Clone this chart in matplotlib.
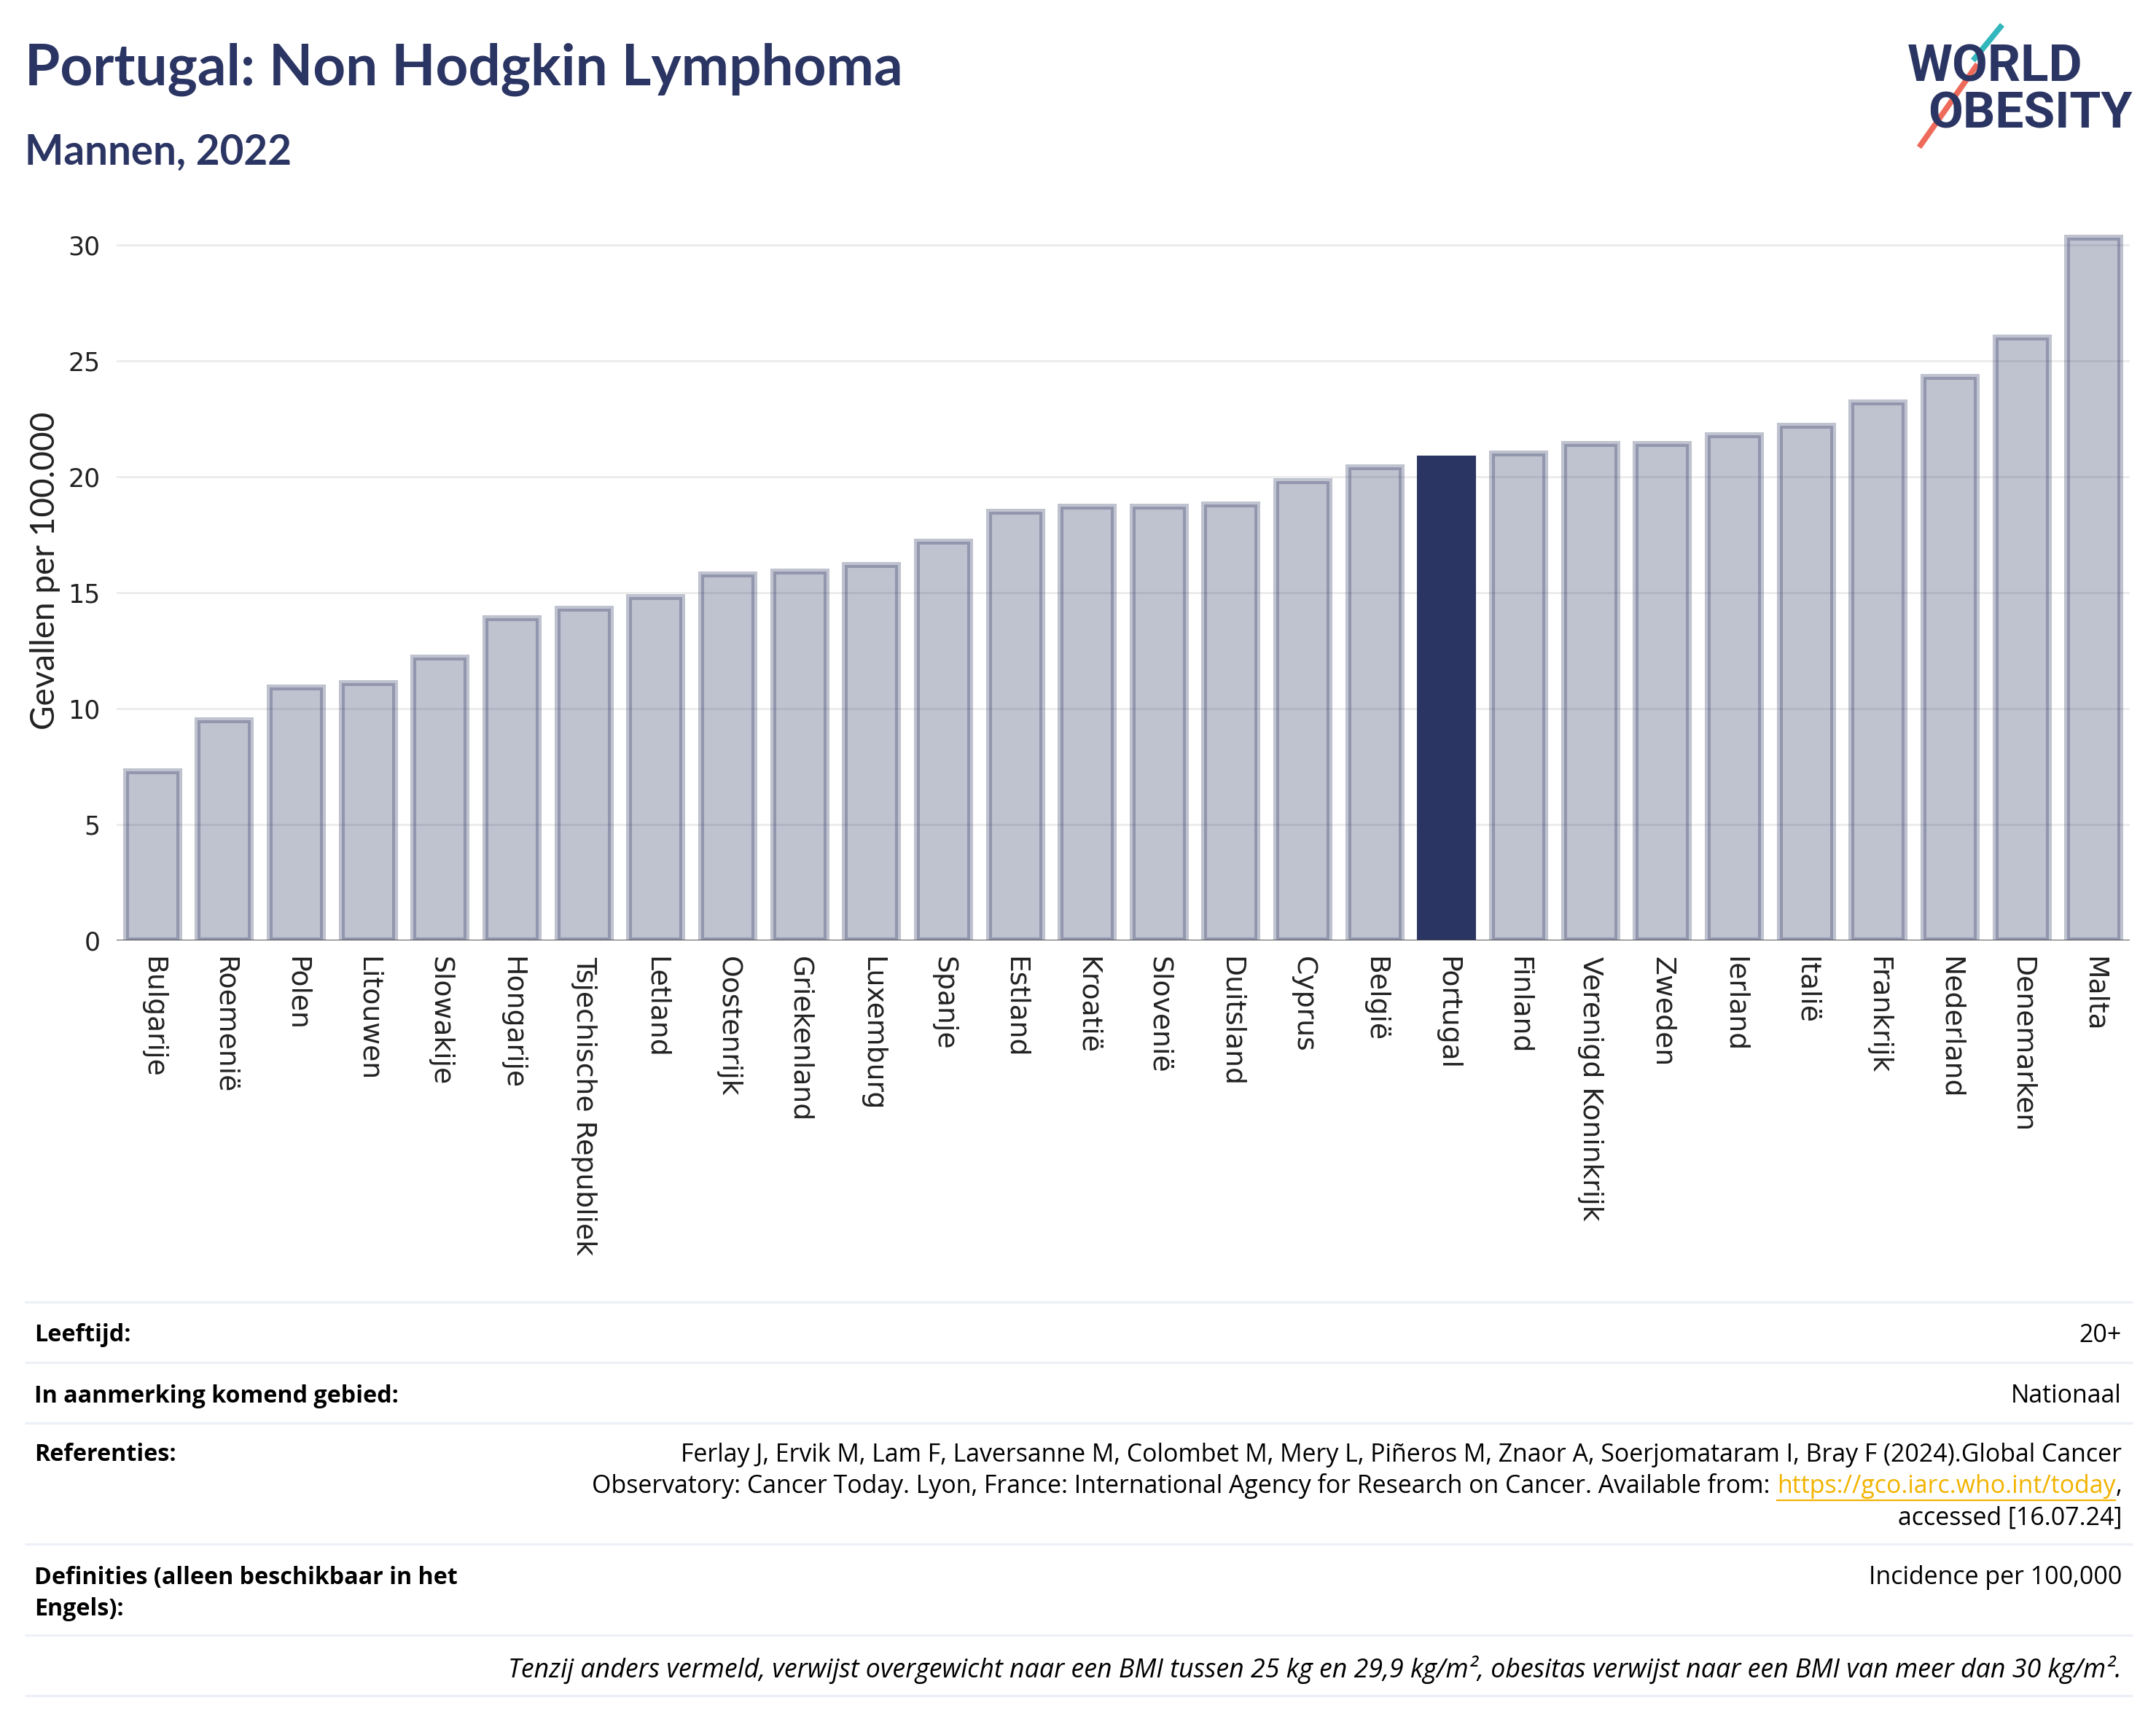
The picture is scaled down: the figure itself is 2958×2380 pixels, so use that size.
import matplotlib
matplotlib.use("Agg")
import matplotlib.pyplot as plt
from matplotlib.lines import Line2D
import numpy as np

# data
countries = ["Bulgarije", "Roemenië", "Polen", "Litouwen", "Slowakije", "Hongarije",
             "Tsjechische Republiek", "Letland", "Oostenrijk", "Griekenland", "Luxemburg",
             "Spanje", "Estland", "Kroatië", "Slovenië", "Duitsland", "Cyprus", "België",
             "Portugal", "Finland", "Verenigd Koninkrijk", "Zweden", "Ierland", "Italië",
             "Frankrijk", "Nederland", "Denemarken", "Malta"]
values = [7.3, 9.5, 10.9, 11.1, 12.2, 13.9, 14.3, 14.8, 15.8, 15.9, 16.2, 17.2, 18.5,
          18.7, 18.7, 18.8, 19.8, 20.4, 20.8, 21.0, 21.4, 21.4, 21.8, 22.2, 23.2, 24.3,
          26.0, 30.3]
highlight = "Portugal"
yticks = [0, 5, 10, 15, 20, 25, 30]

footer_rows = [
    ("Leeftijd:", "20+"),
    ("In aanmerking komend gebied:", "Nationaal"),
]
ref_line1 = "Ferlay J, Ervik M, Lam F, Laversanne M, Colombet M, Mery L, Piñeros M, Znaor A, Soerjomataram I, Bray F (2024).Global Cancer"
ref_line2 = "Observatory: Cancer Today. Lyon, France: International Agency for Research on Cancer. Available from: "
ref_link = "https://gco.iarc.who.int/today"
ref_line3 = "accessed [16.07.24]"
note = "Tenzij anders vermeld, verwijst overgewicht naar een BMI tussen 25 kg en 29,9 kg/m², obesitas verwijst naar een BMI van meer dan 30 kg/m²."

NAVY = "#2b3563"
W, H = 2958, 2380
DPI = 200
plt.rcParams['font.family'] = ['Lato', 'DejaVu Sans']

fig = plt.figure(figsize=(W / DPI, H / DPI), dpi=DPI)
ax = fig.add_axes([160 / W, 1 - 1290 / H, (2922 - 160) / W, 31 * 31.8 / H])

x = np.arange(len(countries))
for xi, c, v in zip(x, countries, values):
    if c == highlight:
        ax.bar(xi, v, width=0.74, color=NAVY, edgecolor=NAVY, linewidth=2.9, zorder=3)
    else:
        ax.bar(xi, v, width=0.74, color=(0.169, 0.208, 0.388, 0.3),
               edgecolor=(0.169, 0.208, 0.388, 0.3), linewidth=2.9, zorder=3)

ax.set_xlim(-0.5, len(countries) - 0.5)
ax.set_ylim(0, 31)
ax.set_yticks(yticks)
ax.set_yticklabels([str(t) for t in yticks], fontsize=12.5, color="#222222",
                   family="DejaVu Sans")
ax.set_xticks(x)
ax.set_xticklabels(countries, rotation=270, fontsize=13.6, color="#222222",
                   family="DejaVu Sans", va="top", ha="center")
ax.tick_params(length=0, pad=8)
ax.grid(axis="y", color="#ebebeb", linewidth=1.0, zorder=0)
for s in ax.spines.values():
    s.set_visible(False)
ax.axhline(0, color="#444444", linewidth=1.0, zorder=4)

fig.text(62 / W, 1 - 783 / H, "Gevallen per 100.000", rotation=90, fontsize=16.5,
         ha="center", va="center", color="#222222")

# title
fig.text(34 / W, 1 - 117 / H, "Portugal: Non Hodgkin Lymphoma", fontsize=28.2,
         fontweight="bold", color=NAVY, va="baseline")
fig.text(34 / W, 1 - 226 / H, "Mannen, 2022", fontsize=20.4, fontweight="bold",
         color=NAVY, va="baseline")

# logo
def fig_line(x0, y0, x1, y1, color, lw):
    fig.add_artist(Line2D([x0 / W, x1 / W], [1 - y0 / H, 1 - y1 / H],
                          transform=fig.transFigure, color=color, lw=lw,
                          solid_capstyle="butt"))

fig.text(2617 / W, 1 - 111 / H, "WORLD", fontsize=25.5, fontweight="bold",
         color=NAVY, va="baseline", family="Roboto")
fig.text(2645 / W, 1 - 175 / H, "OBESITY", fontsize=25, fontweight="bold",
         color=NAVY, va="baseline", family="Roboto")
fig_line(2747, 34, 2707, 83, "white", 6)
fig_line(2713, 88, 2633, 202, "white", 6)
fig_line(2747, 34, 2707, 83, "#31b7bc", 2.8)
fig_line(2713, 88, 2633, 202, "#ee6b5b", 2.8)

# footer table
for yl in [1786, 1869, 1952, 2118, 2243, 2326]:
    fig_line(34, yl, 2926, yl, "#edf0f6", 1.2)

FS = 12.2    # regular
FB = 11.6    # bold labels
FI = 12.9    # italic note
FF = "Open Sans"
LX, RX = 47 / W, 2911 / W
fig.text(LX, 1 - 1832 / H, footer_rows[0][0], fontsize=FB, fontweight="bold", va="center", family=FF)
fig.text(RX, 1 - 1832 / H, footer_rows[0][1], fontsize=FS, va="center", ha="right", family=FF)
fig.text(LX, 1 - 1915 / H, footer_rows[1][0], fontsize=FB, fontweight="bold", va="center", family=FF)
fig.text(RX, 1 - 1915 / H, footer_rows[1][1], fontsize=FS, va="center", ha="right", family=FF)
fig.text(LX, 1 - 1996 / H, "Referenties:", fontsize=FB, fontweight="bold", va="center", family=FF)
fig.text(RX, 1 - 1996 / H, ref_line1, fontsize=FS, va="center", ha="right", family=FF)
fig.text(RX, 1 - 2083 / H, ref_line3, fontsize=FS, va="center", ha="right", family=FF)

fig.canvas.draw()
renderer = fig.canvas.get_renderer()
y2 = 1 - 2039 / H
t_comma = fig.text(RX, y2, ",", fontsize=FS, va="center", ha="right", family=FF)
wc = t_comma.get_window_extent(renderer).width / W
t_link = fig.text(RX - wc, y2, ref_link, fontsize=FS, va="center", ha="right",
                  color="#f2b300", family=FF)
bb = t_link.get_window_extent(renderer)
fig.add_artist(Line2D([bb.x0 / W, bb.x1 / W], [(bb.y0 - 2) / H, (bb.y0 - 2) / H],
                      transform=fig.transFigure, color="#f2b300", lw=0.8))
fig.text(RX - wc - bb.width / W, y2, ref_line2, fontsize=FS, va="center", ha="right", family=FF)

fig.text(LX, 1 - 2164 / H, "Definities (alleen beschikbaar in het", fontsize=FB,
         fontweight="bold", va="center", family=FF)
fig.text(LX, 1 - 2207 / H, "Engels):", fontsize=FB, fontweight="bold", va="center", family=FF)
fig.text(RX, 1 - 2164 / H, "Incidence per 100,000", fontsize=FS, va="center", ha="right", family=FF)
fig.text(RX, 1 - 2290 / H, note, fontsize=FI, style="italic", va="center", ha="right", family=FF)

fig.savefig("out.png", dpi=DPI)
